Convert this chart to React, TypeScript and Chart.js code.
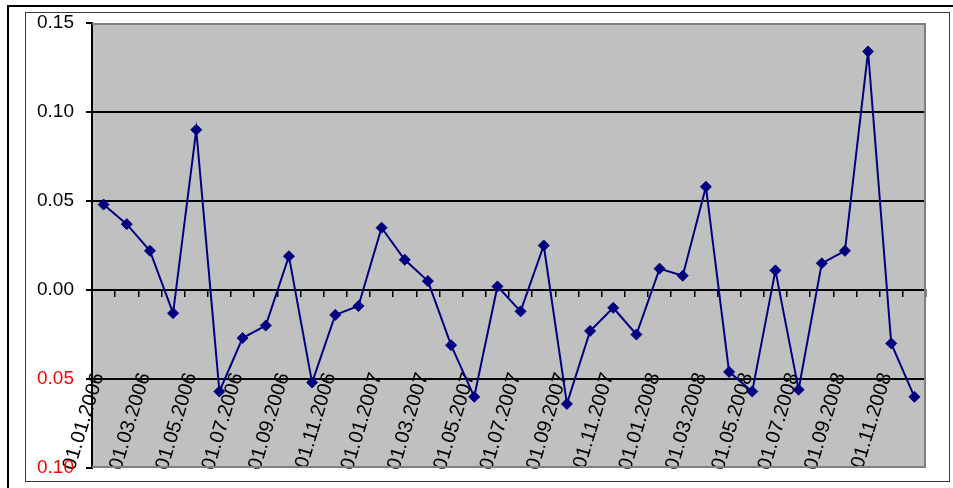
import React, { useEffect, useRef } from 'react';
import { Chart, registerables } from 'chart.js';

Chart.register(...registerables);

const categories = [
  '01.01.2006', '01.02.2006', '01.03.2006', '01.04.2006', '01.05.2006', '01.06.2006',
  '01.07.2006', '01.08.2006', '01.09.2006', '01.10.2006', '01.11.2006', '01.12.2006',
  '01.01.2007', '01.02.2007', '01.03.2007', '01.04.2007', '01.05.2007', '01.06.2007',
  '01.07.2007', '01.08.2007', '01.09.2007', '01.10.2007', '01.11.2007', '01.12.2007',
  '01.01.2008', '01.02.2008', '01.03.2008', '01.04.2008', '01.05.2008', '01.06.2008',
  '01.07.2008', '01.08.2008', '01.09.2008', '01.10.2008', '01.11.2008', '01.12.2008',
];

const spreadChanges = [
  0.048, 0.037, 0.022, -0.013, 0.090, -0.057,
  -0.027, -0.020, 0.019, -0.052, -0.014, -0.009,
  0.035, 0.017, 0.005, -0.031, -0.060, 0.002,
  -0.012, 0.025, -0.064, -0.023, -0.010, -0.025,
  0.012, 0.008, 0.058, -0.046, -0.057, 0.011,
  -0.056, 0.015, 0.022, 0.134, -0.030, -0.060,
];

const yMin = -0.1;
const yMax = 0.15;
const yStep = 0.05;
const labelRowValue = -0.045;

const FONT = "'Liberation Sans', Arial, sans-serif";

const plotArea = {
  id: 'plotArea',
  beforeDraw(chart: any) {
    const { ctx, chartArea: a } = chart;
    ctx.save();
    ctx.fillStyle = '#C0C0C0';
    ctx.fillRect(a.left, a.top, a.right - a.left, a.bottom - a.top);
    ctx.restore();
  },
  beforeDatasetsDraw(chart: any) {
    const { ctx, chartArea: a } = chart;
    ctx.save();
    ctx.strokeStyle = '#808080';
    ctx.lineWidth = 2;
    ctx.beginPath();
    ctx.moveTo(a.left, a.top + 1);
    ctx.lineTo(a.right - 1, a.top + 1);
    ctx.lineTo(a.right - 1, a.bottom - 1);
    ctx.lineTo(a.left, a.bottom - 1);
    ctx.stroke();
    ctx.restore();
  },
};

const zeroFit = (s: any) => {
  s.height = 0;
  s.paddingTop = 0;
  s.paddingBottom = 0;
  s.paddingLeft = 0;
  s.paddingRight = 0;
};

function ChartCanvas() {
  const ref = useRef<HTMLCanvasElement>(null);
  useEffect(() => {
    if (!ref.current) return;
    const chart = new Chart(ref.current, {
      type: 'line',
      data: {
        labels: categories,
        datasets: [
          {
            data: spreadChanges,
            xAxisID: 'x',
            yAxisID: 'y',
            borderColor: '#000080',
            backgroundColor: '#000080',
            borderWidth: 2,
            pointStyle: 'rectRot',
            pointRadius: 5.5,
            pointBorderWidth: 1,
            pointBorderColor: '#000080',
            pointBackgroundColor: '#000080',
            tension: 0,
          },
        ],
      },
      options: {
        animation: false,
        responsive: false,
        events: [],
        layout: { padding: { left: 0, top: 23, right: 27, bottom: 20 } },
        plugins: { legend: { display: false }, tooltip: { enabled: false } },
        scales: {
          x: {
            type: 'category',
            position: { y: 0 } as any,
            offset: true,
            afterFit: zeroFit,
            border: { display: true, color: '#000000', width: 2 },
            grid: {
              display: true,
              offset: true,
              drawOnChartArea: false,
              drawTicks: true,
              tickLength: 6,
              tickColor: '#000000',
              lineWidth: 1.5,
            },
            ticks: { display: false, autoSkip: false },
          },
          x2: {
            type: 'category',
            position: { y: labelRowValue } as any,
            offset: true,
            afterFit: zeroFit,
            border: { display: false },
            grid: { display: false, drawTicks: false },
            ticks: {
              autoSkip: false,
              maxRotation: 73,
              minRotation: 73,
              padding: 0,
              labelOffset: -5,
              color: '#000000',
              font: { family: FONT, size: 20 },
              callback: (_v: any, i: number) => (i % 2 === 0 ? categories[i] : ''),
            },
          },
          y: {
            position: 'left',
            min: yMin,
            max: yMax,
            afterFit: (s: any) => {
              s.width = 92;
              s.paddingTop = 0;
              s.paddingBottom = 0;
            },
            border: { display: true, color: '#000000', width: 2 },
            grid: {
              color: (ctx: any) => {
                const v = ctx.tick ? ctx.tick.value : 0;
                if (Math.abs(v - yMin) < 1e-9 || Math.abs(v - yMax) < 1e-9) return 'rgba(0,0,0,0)';
                return '#000000';
              },
              lineWidth: 2,
              drawTicks: true,
              tickLength: 6,
              tickColor: '#000000',
            },
            ticks: {
              stepSize: yStep,
              padding: 12,
              font: { family: FONT, size: 19 },
              color: (ctx: any) => (ctx.tick && ctx.tick.value < -1e-9 ? '#FF0000' : '#000000'),
              callback: (v: any) => Math.abs(Number(v)).toFixed(2),
            },
          },
        },
      },
      plugins: [plotArea],
    });
    return () => chart.destroy();
  }, []);
  return <canvas ref={ref} width={953} height={488} style={{ position: 'absolute', left: 0, top: 0, width: 953, height: 488 }} />;
}

export default function App() {
  return (
    <div style={{ position: 'absolute', left: 0, top: 0, width: 953, height: 488, background: '#FFFFFF', overflow: 'hidden' }}>
      <div style={{ position: 'absolute', left: 7, top: 5, width: 946, height: 2, background: '#000000' }} />
      <div style={{ position: 'absolute', left: 7, top: 5, width: 2, height: 483, background: '#000000' }} />
      <div style={{ position: 'absolute', left: 25, top: 12, width: 925, height: 470, border: '1px solid #3a3a3a', boxSizing: 'border-box' }} />
      <ChartCanvas />
    </div>
  );
}
